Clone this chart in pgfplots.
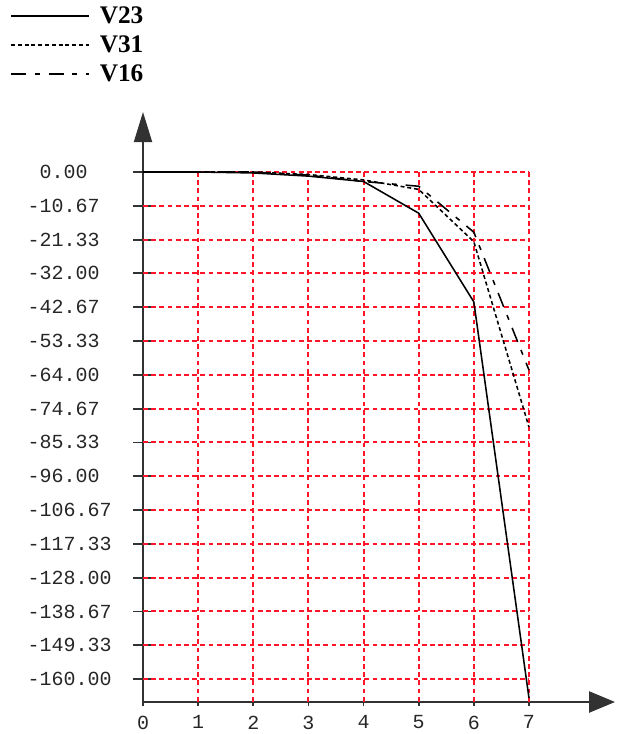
\documentclass[border=0pt]{standalone}
\usepackage{fontspec}
\setmainfont{Liberation Serif}
\newfontfamily\tickfont{Liberation Mono}
\usepackage{pgfplots}
\pgfplotsset{compat=1.18}
\usetikzlibrary{arrows.meta}
\definecolor{gridred}{RGB}{255,20,40}
\definecolor{axisgray}{RGB}{50,50,50}

\begin{document}
\begin{tikzpicture}
% page = 623 x 734 px, 1 px = 0.025 cm
\useasboundingbox (0,0) rectangle (15.575,-18.35);
\begin{axis}[
    at={(3.575cm,-17.55cm)}, anchor=south west,
    scale only axis, width=11.8cm, height=14.75cm,
    xmin=0, xmax=8.56, ymin=-167.25, ymax=18.93,
    axis lines*=left,
    axis line style={line width=1.3pt, axisgray},
    x axis line style={-{Triangle[length=0.65cm,width=0.53cm]}},
    y axis line style={-{Triangle[length=0.75cm,width=0.45cm]}},
    tick align=center,
    tick style={line width=1.3pt, axisgray},
    major tick length=0.475cm,
    xtick style={/pgfplots/major tick length=0.2cm},
    xtick={0,1,2,3,4,5,6,7},
    xticklabels={0,1,2,3,4,5,6,7},
    ytick={0,-10.6667,-21.3333,-32,-42.6667,-53.3333,-64,-74.6667,-85.3333,-96,-106.6667,-117.3333,-128,-138.6667,-149.3333,-160},
    yticklabels={\phantom{-}0.00,-10.67,-21.33,-32.00,-42.67,-53.33,-64.00,-74.67,-85.33,-96.00,-106.67,-117.33,-128.00,-138.67,-149.33,-160.00},
    ticklabel style={font=\tickfont\fontsize{14.2}{15}\selectfont, text=black!85},
    yticklabel style={anchor=east, text width=2.2cm, align=left, inner sep=0pt},
    yticklabel shift=0.4375cm,
    xticklabel style={anchor=north, inner sep=0pt},
    xticklabel shift=0.1cm,
    clip=false,
    legend style={at={(axis description cs:-0.2818,1.183)}, anchor=north west,
        draw=none, fill=none, inner sep=0pt, row sep=0pt, column sep=0.25cm,
        font=\bfseries\fontsize{18}{18}\selectfont,
        nodes={inner xsep=0pt, inner ysep=0pt, text height=0.47cm, text depth=0.255cm}},
    legend cell align=left,
    legend image code/.code={\draw[#1] (0cm,0.075cm) -- (1.95cm,0.075cm);},
]
% red dashed grid
\pgfplotsinvokeforeach{0,...,15}{
    \draw[gridred, line width=1.5pt, dash pattern=on 0.12cm off 0.085cm]
        (0,{-#1*10.66667}) -- (7,{-#1*10.66667});
}
\pgfplotsinvokeforeach{1,...,7}{
    \draw[gridred, line width=1.5pt, dash pattern=on 0.12cm off 0.085cm]
        (#1,0) -- (#1,-167.25);
}

\addplot[black, line width=1.1pt] coordinates {
    (0,0) (1,0) (2,-0.3) (3,-1.3) (4,-3) (5,-13) (6,-41) (7,-166)
};
\addlegendentry{V23}
\addplot[black, line width=1.1pt, dash pattern=on 0.1cm off 0.07cm] coordinates {
    (0,0) (1,0) (2,0) (3,-0.8) (4,-2.5) (5,-5.5) (6,-22) (7,-80.5)
};
\addlegendentry{V31}
\addplot[black, line width=1.1pt, dash pattern=on 0.375cm off 0.22cm on 0.125cm off 0.22cm] coordinates {
    (0,0) (1,0) (2,0) (3,-1) (4,-3) (5,-4.5) (6,-19) (7,-62.5)
};
\addlegendentry{V16}
\end{axis}
\end{tikzpicture}
\end{document}
